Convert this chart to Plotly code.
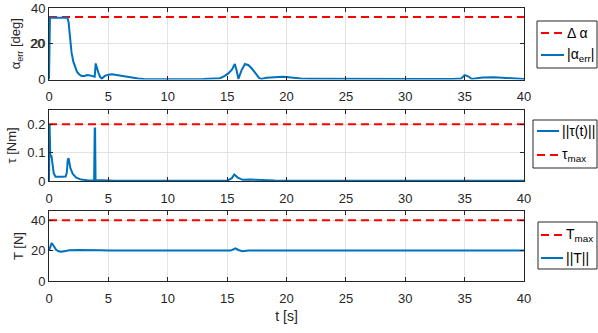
import plotly.graph_objects as go

# ---------------- data ----------------
alpha_t = [0, 0.08, 0.15, 1.55, 1.65, 1.77, 1.9, 2.05, 2.2, 2.35, 2.55, 2.75, 3.0, 3.2, 3.45, 3.7, 3.85, 3.93, 4.0, 4.15,
           4.3, 4.45, 4.7, 5.0, 5.3, 5.7, 6.1, 6.6, 7.0, 7.5, 8.0, 9, 10, 12, 13, 14, 14.4, 14.8, 15.1, 15.4,
           15.65, 15.8, 15.95, 16.2, 16.5, 16.8, 17.1, 17.4, 17.7, 17.9, 18.3, 19, 19.7, 20.2, 20.7, 21.2, 22, 24, 26, 28,
           30, 32, 34, 34.7, 35.0, 35.3, 35.6, 36.0, 36.5, 37.5, 38.3, 39, 40]
alpha_err = [0, 34.5, 34.5, 34.5, 32, 23, 15, 10, 6.5, 4.4, 2.8, 2, 2, 2.5, 2.3, 2, 1.6, 9, 7, 4,
             1.5, 0.5, 2, 2.7, 2.9, 2.5, 1.7, 1.2, 0.8, 0.5, 0.3, 0.2, 0.2, 0.2, 0.3, 0.4, 0.7, 2, 3.4, 5.5,
             8.7, 5, 0.3, 5, 8.7, 8, 6, 3.4, 0.8, 0.3, 1, 1.3, 1.5, 1.2, 0.8, 0.5, 0.4, 0.3, 0.3, 0.3,
             0.3, 0.3, 0.3, 0.5, 2.5, 1.8, 0.3, 0.6, 1.1, 1.2, 1.0, 0.6, 0.3]

tau_t = [0, 0.02, 0.05, 0.1, 0.15, 0.2, 0.3, 0.4, 0.55, 0.8, 1.1, 1.4, 1.5, 1.58, 1.65, 1.8, 2.0, 2.3, 2.7, 3.2,
         3.8, 3.85, 3.88, 3.92, 3.96, 4.5, 5.0, 5.5, 10, 15.0, 15.4, 15.6, 15.9, 16.3, 17, 18, 19, 25, 34.8, 35.2,
         35.8, 40]
tau_norm = [0, 0.2, 0.2, 0.10, 0.085, 0.09, 0.05, 0.027, 0.015, 0.014, 0.015, 0.016, 0.03, 0.075, 0.08, 0.045, 0.025, 0.012, 0.005, 0.003,
            0.002, 0.185, 0.185, 0.004, 0.003, 0.003, 0.002, 0.0005, 0.0005, 0.001, 0.01, 0.023, 0.012, 0.004, 0.005, 0.004, 0.002, 0.001, 0.001, 0.003,
            0.001, 0.0005]

T_t = [0, 0.1, 0.23, 0.4, 0.6, 0.8, 1.0, 1.3, 1.7, 2.5, 3.5, 3.9, 4.3, 5, 10, 15.3, 15.7, 16.0, 16.3, 16.8, 20, 30, 40]
T_norm = [20, 23, 25, 23, 20.5, 19.5, 19.2, 19.6, 20.2, 20.3, 20.3, 20.6, 20.2, 20, 20, 20, 21.4, 20.2, 19.6, 20, 20, 20, 20]

limit_t = [0, 40]
delta_alpha = [35, 35]
tau_max = [0.2, 0.2]
T_max = [40, 40]

x_ticks = [0, 5, 10, 15, 20, 25, 30, 35, 40]
alpha_ticks = [0, 20, 40]
tau_ticks = [0, 0.1, 0.2]
T_ticks = [0, 20, 40]

legend1_labels = ["Δ α", "|α<sub>err</sub>|"]
legend2_labels = ["||τ(t)||", "τ<sub>max</sub>"]
legend3_labels = ["T<sub>max</sub>", "||T||"]

# ---------------- style ----------------
BLUE = "#0072BD"
RED = "#FF0000"
AX = "#262626"
GRID = "#e3e3e3"
FONT = "Liberation Sans, Arial, sans-serif"
FS = 13
LFS = 14

W, H = 598, 333
ML, MR, MT, MB = 49, 74, 8, 52
PW, PH = W - ML - MR, H - MT - MB

fig = go.Figure()

blue_line = dict(color=BLUE, width=2)
red_line = dict(color=RED, width=2, dash="8px,5px")

fig.add_trace(go.Scatter(x=limit_t, y=delta_alpha, mode="lines", name=legend1_labels[0],
                         line=red_line, xaxis="x", yaxis="y", showlegend=False))
fig.add_trace(go.Scatter(x=alpha_t, y=alpha_err, mode="lines", name=legend1_labels[1],
                         line=blue_line, xaxis="x", yaxis="y", showlegend=False))
fig.add_trace(go.Scatter(x=tau_t, y=tau_norm, mode="lines", name=legend2_labels[0],
                         line=blue_line, xaxis="x2", yaxis="y2", showlegend=False))
fig.add_trace(go.Scatter(x=limit_t, y=tau_max, mode="lines", name=legend2_labels[1],
                         line=red_line, xaxis="x2", yaxis="y2", showlegend=False))
fig.add_trace(go.Scatter(x=limit_t, y=T_max, mode="lines", name=legend3_labels[0],
                         line=red_line, xaxis="x3", yaxis="y3", showlegend=False))
fig.add_trace(go.Scatter(x=T_t, y=T_norm, mode="lines", name=legend3_labels[1],
                         line=blue_line, xaxis="x3", yaxis="y3", showlegend=False))


def xax(anchor, title=None):
    d = dict(domain=[0, 1], range=[0, 40], tickmode="array", tickvals=x_ticks,
             ticktext=[str(v) for v in x_ticks], anchor=anchor, automargin=False,
             showline=True, linecolor=AX, linewidth=1, mirror="ticks",
             ticks="inside", ticklen=4, tickcolor=AX, ticklabelstandoff=5,
             ticklabeloverflow="allow", showticklabels=True,
             showgrid=True, gridcolor=GRID, gridwidth=1, zeroline=False,
             tickfont=dict(size=FS, color=AX, family=FONT))
    if title:
        d["title"] = dict(text=title, font=dict(size=LFS, color=AX, family=FONT), standoff=6)
    return d


def yax(anchor, dom, rng, tv, title, standoff=4):
    return dict(domain=dom, range=rng, tickmode="array", tickvals=tv,
                ticktext=[f"{v:g}" for v in tv], anchor=anchor, automargin=False,
                showline=True, linecolor=AX, linewidth=1, mirror="ticks",
                ticks="inside", ticklen=4, tickcolor=AX,
                ticklabeloverflow="allow", showticklabels=True,
                showgrid=True, gridcolor=GRID, gridwidth=1, zeroline=False,
                tickfont=dict(size=FS, color=AX, family=FONT),
                title=dict(text=title, font=dict(size=FS, color=AX, family=FONT), standoff=standoff))


def px_x(px):
    return (px - ML) / PW


def px_y(py):
    return (H - MB - py) / PH


shapes = []
annotations = []


def add_legend(box, rows):
    x0, y0, x1, y1 = box
    shapes.append(dict(type="rect", xref="paper", yref="paper",
                       x0=px_x(x0), x1=px_x(x1), y0=px_y(y1), y1=px_y(y0),
                       line=dict(color=AX, width=1), fillcolor="white", layer="above"))
    for (ly, lx0, lx1, style, label) in rows:
        shapes.append(dict(type="line", xref="paper", yref="paper",
                           x0=px_x(lx0), x1=px_x(lx1), y0=px_y(ly), y1=px_y(ly),
                           line=style, layer="above"))
        annotations.append(dict(text=label, xref="paper", yref="paper",
                                x=px_x(lx1 + 1), y=px_y(ly), xanchor="left", yanchor="middle",
                                showarrow=False, font=dict(size=LFS, color="black", family=FONT)))


add_legend((537, 21, 597, 68), [
    (33, 541, 564, red_line, legend1_labels[0]),
    (55, 541, 564, blue_line, legend1_labels[1]),
])
add_legend((533, 120, 597, 168), [
    (131, 537, 559, blue_line, legend2_labels[0]),
    (155, 537, 559, red_line, legend2_labels[1]),
])
add_legend((538, 222, 597, 269), [
    (235, 541, 563, red_line, legend3_labels[0]),
    (258, 541, 563, blue_line, legend3_labels[1]),
])

# middle tick label of the top panel (plotly hides it next to the long axis title)
annotations.append(dict(text=f"{alpha_ticks[1]:g}", xref="paper", yref="y",
                        x=0, y=alpha_ticks[1], xanchor="right", yanchor="middle", xshift=-3,
                        showarrow=False, font=dict(size=FS, color=AX, family=FONT)))

fig.update_layout(
    width=W, height=H,
    margin=dict(l=ML, r=MR, t=MT, b=MB, autoexpand=False),
    paper_bgcolor="white", plot_bgcolor="white",
    font=dict(family=FONT, color=AX),
    showlegend=False,
    xaxis=xax("y"),
    yaxis=yax("x", [px_y(79.5), 1.0], [0, 40], alpha_ticks, "α<sub>err</sub> [deg]", standoff=7),
    xaxis2=xax("y2"),
    yaxis2=yax("x2", [px_y(181), px_y(110)], [0, 0.25], tau_ticks, "τ [Nm]", standoff=7),
    xaxis3=xax("y3", "t [s]"),
    yaxis3=yax("x3", [0.0, px_y(211)], [0, 46], T_ticks, "T [N]", standoff=4),
    shapes=shapes,
    annotations=annotations,
)

fig.write_html("out.html", config={"displayModeBar": False},
               post_script="document.body.style.margin='0px';")
